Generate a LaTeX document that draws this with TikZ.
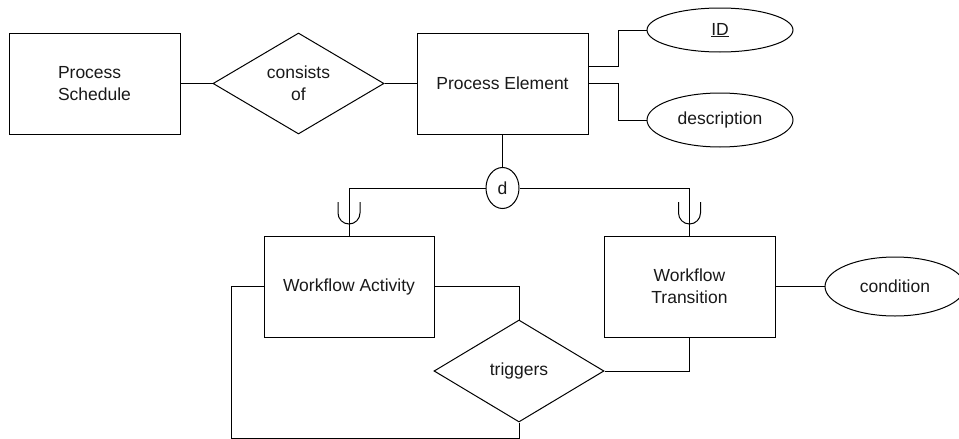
\documentclass[tikz,border=0pt]{standalone}
\usepackage{fontspec}
\setmainfont{Liberation Sans}
\usetikzlibrary{shapes.geometric}
\begin{document}
\begin{tikzpicture}[x=1pt,y=-1pt,
  every node/.style={font=\fontsize{17.5}{22}\selectfont, inner sep=0pt, text=black!90},
  entity/.style={draw, rectangle, line width=1pt, minimum width=171pt, minimum height=101pt, align=center},
  relation/.style={draw, diamond, line width=1pt, minimum width=171pt, minimum height=101pt, align=center},
  attrib/.style={draw, ellipse, line width=1pt},
  conn/.style={draw, line width=1pt},
  subsetmark/.style={draw, line width=1pt},
]
\useasboundingbox (0,0) rectangle (959,439);
\clip (0,0) rectangle (959,439);

% entities
\node[entity, align=left] (ps) at (94.5,83.5) {Process\\Schedule};
\node[entity] (pe) at (502.5,83.5) {Process Element};
\node[entity, minimum width=170pt] (wa) at (349,286.5) {Workflow Activity};
\node[entity] (wt) at (689.5,286.5) {Workflow\\Transition};

% relationships
\node[relation] (cons) at (298.5,83.5) {consists\\of};
\node[relation, minimum width=170pt, minimum height=102pt] (trig) at (519,371) {triggers};

% attributes
\node[attrib, minimum width=146pt, minimum height=44pt] (id) at (720,30) {\underline{ID}};
\node[attrib, minimum width=146pt, minimum height=54pt] (desc) at (720,120) {description};
\node[attrib, minimum width=140pt, minimum height=59pt] (cond) at (895,286.5) {condition};

% disjoint specialization circle
\node[attrib, minimum width=33pt, minimum height=41pt] (d) at (502.5,188) {d};

% connectors
\draw[conn] (ps.east) -- (cons.west);
\draw[conn] (cons.east) -- (pe.west);
\coordinate (idk) at (618,66);
\coordinate (desck) at (618,83.5);
\draw[conn] (pe.east |- idk) -- (idk) |- (id.west);
\draw[conn] (pe.east |- desck) -- (desck) |- (desc.west);
\draw[conn] (pe.south) -- (d.north);
\draw[conn] (d.west) -| (wa.north);
\draw[conn] (d.east) -| (wt.north);
\draw[conn] (wt.east) -- (cond.west);
\draw[conn] (wa.east) -| (trig.north);
\draw[conn] (wt.south) |- (trig.east);
\coordinate (loopb) at (519,438);
\coordinate (loopl) at (231,438);
\draw[conn] (trig.south) -- (loopb) -- (loopl) |- (wa.west);

% subset marks (the y axis points down, so the arc runs 180 -> 0)
\draw[subsetmark] (338,202) -- (338,213) arc[start angle=180, end angle=0, radius=11] -- (360,202);
\draw[subsetmark] (678.5,202) -- (678.5,213) arc[start angle=180, end angle=0, radius=11] -- (700.5,202);
\end{tikzpicture}
\end{document}
